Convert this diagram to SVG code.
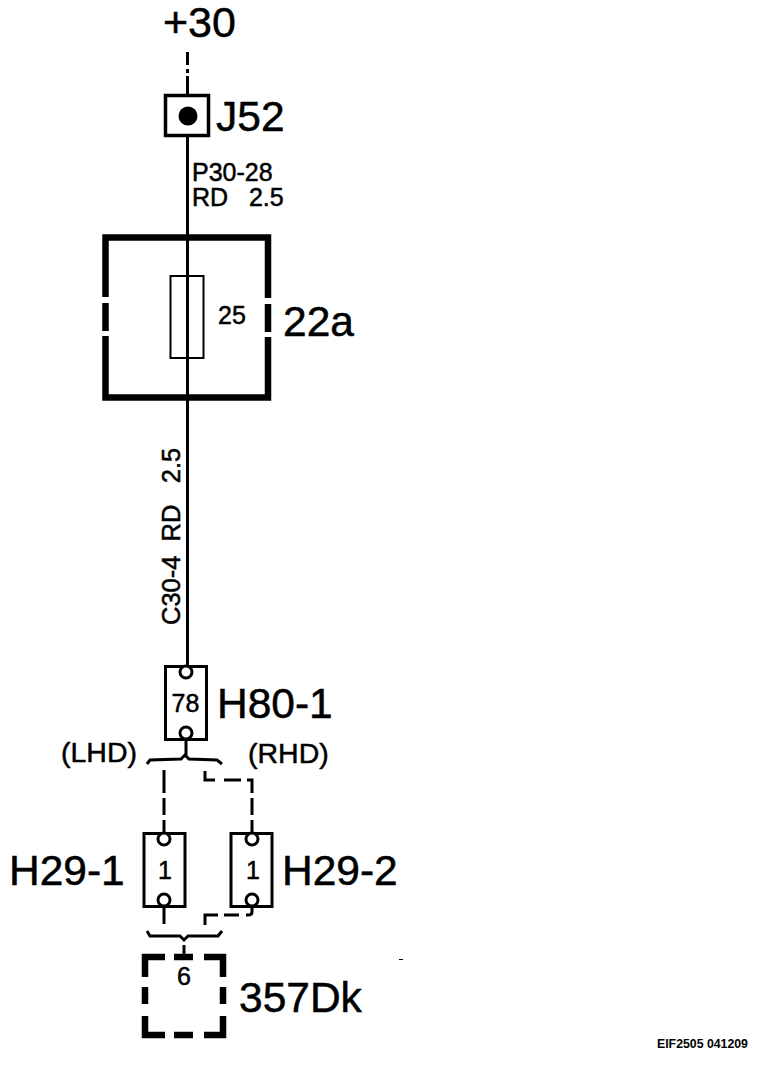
<svg xmlns="http://www.w3.org/2000/svg" width="768" height="1074" viewBox="0 0 768 1074">
<style>
text{font-family:"Liberation Sans",Arial,sans-serif;fill:#000;stroke:#000;stroke-width:.5}
.big{font-size:42.500px}
.mid{font-size:25px}
.hand{font-size:28.500px}
.box{fill:none;stroke:#000;stroke-width:3}
.pin{fill:#fff;stroke:#000;stroke-width:3}
.w{fill:none;stroke:#000;stroke-width:3}
.t{fill:none;stroke:#000;stroke-width:6.500}
</style>
<rect width="768" height="1074" fill="#fff"/>
<g id="connectors">
<path class="w" d="M187.500 52V65M187.500 69V73M187.500 76V94"/>
<path class="w" d="M187.500 137V666"/>
<path class="w" d="M186 739V755"/>
<path class="w" d="M147 764L150 760L181 759L185 755L189 759L217 760L222 764"/>
<path class="w" d="M164 770V793M164 798V815M164 820V833"/>
<path class="w" d="M205 771V780H215M224 780H241M247 780H252V793M252 798V815M252 820V833"/>
<path class="w" d="M164 906V924"/>
<path class="w" d="M252 906V912Q252 915 248 915H246M239 915H224M218 915H205V925"/>
<path class="w" d="M147 931L150 936H180L184 940L188 936H218L222 931"/>
<path class="w" d="M184 945V955"/>
<path d="M399 959.500H403" stroke="#000" stroke-width="1"/>
</g>
<g id="supply"><text x="163" y="37" class="big" style="font-size:43px">+30</text></g>
<g id="J52">
<rect x="165.500" y="95.500" width="43" height="40" fill="none" stroke="#000" stroke-width="3.500"/>
<circle cx="188" cy="116" r="9.500"/>
<text x="216" y="131" class="big">J52</text>
</g>
<g id="wire-P30-28">
<text x="192" y="181" class="mid">P30-28</text>
<text x="192" y="206" class="mid" xml:space="preserve">RD   2.5</text>
</g>
<g id="fuse-22a">
<path class="t" d="M105.500 297V237.500H268V298M268 304V332M268 337V397.500H105.500V336M105.500 331V303"/>
<rect x="170.500" y="276" width="33" height="82" fill="none" stroke="#000" stroke-width="2"/>
<text x="218" y="324" class="mid">25</text>
<text x="283" y="336" class="big">22a</text>
</g>
<g id="wire-C30-4">
<text transform="translate(180 625) rotate(-90)" class="mid" style="font-size:25.500px" xml:space="preserve">C30-4  RD   2.5</text>
</g>
<g id="H80-1">
<rect class="box" x="165.500" y="666.500" width="41" height="73"/>
<circle class="pin" cx="186" cy="672" r="6"/>
<circle class="pin" cx="186" cy="733" r="6"/>
<text x="185.500" y="712" class="mid" text-anchor="middle">78</text>
<text x="217" y="718" class="big">H80-1</text>
</g>
<g id="LHD"><text x="61" y="762" class="hand">(LHD)</text></g>
<g id="RHD"><text x="248" y="763" class="hand">(RHD)</text></g>
<g id="H29-1">
<rect class="box" x="144" y="833.500" width="41" height="73"/>
<circle class="pin" cx="164" cy="839" r="6"/>
<circle class="pin" cx="164" cy="900" r="6"/>
<text x="165" y="879" class="mid" text-anchor="middle">1</text>
<text x="9" y="885" class="big">H29-1</text>
</g>
<g id="H29-2">
<rect class="box" x="231" y="833.500" width="41" height="73"/>
<circle class="pin" cx="252" cy="839" r="6"/>
<circle class="pin" cx="252" cy="900" r="6"/>
<text x="253" y="879" class="mid" text-anchor="middle">1</text>
<text x="282" y="885" class="big">H29-2</text>
</g>
<g id="357Dk">
<path class="t" d="M145 977V957H165M174 957H193M204 957H223V977M223 987V1004M223 1016V1035H204M193 1035H174M165 1035H145V1016M145 1004V987"/>
<text x="184" y="985" class="mid" text-anchor="middle">6</text>
<text x="239" y="1012" class="big">357Dk</text>
</g>
<g id="reference"><text x="657" y="1048" font-size="12.300" font-weight="bold" style="stroke-width:0">EIF2505 041209</text></g>
</svg>
